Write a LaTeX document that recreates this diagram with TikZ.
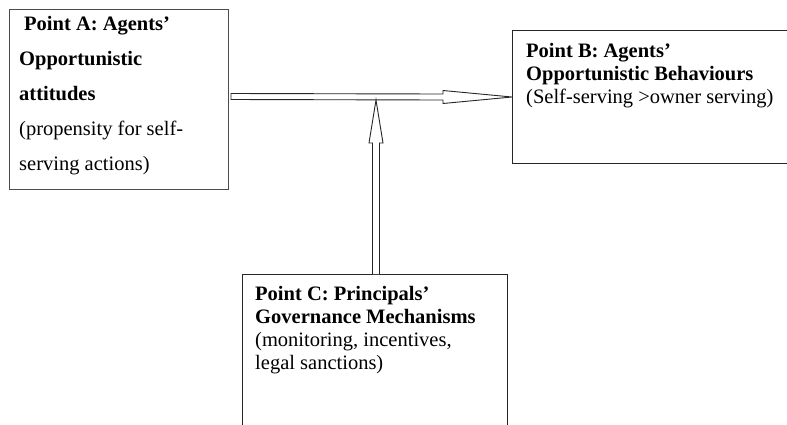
\documentclass[tikz,border=0pt]{standalone}
\usepackage{fontspec}
\setmainfont{Liberation Serif}
\usetikzlibrary{calc}
\begin{document}
\begin{tikzpicture}[x=1pt,y=-1pt,
  box/.style={draw=black!85, line width=1pt, inner sep=0pt, anchor=north west},
  txt/.style={anchor=north west, align=left, inner sep=0pt},
  arrowshape/.style={draw=black!85, line width=0.9pt, fill=white, line join=miter}]
\useasboundingbox (0,0) rectangle (787,424);
\clip (0,0) rectangle (787,424);
% boxes
\node[box, draw=black!70, line width=0.8pt, minimum width=219pt, minimum height=180pt] (A) at (9,9) {};
\node[box, minimum width=290pt, minimum height=133pt] (B) at (512,30) {};
\node[box, minimum width=265pt, minimum height=180pt] (C) at (242,274) {};
% texts
\node[txt, font=\fontsize{20.5}{35}\selectfont] (At) at (19,16)
  {\textbf{\hspace{5pt}Point A: Agents’}\\ \textbf{Opportunistic}\\ \textbf{attitudes}\\ (propensity for self-\\ serving actions)};
\node[txt, font=\fontsize{20.5}{23}\selectfont] (Bt) at (526,43)
  {\textbf{Point B: Agents’}\\ \textbf{Opportunistic Behaviours}\\ (Self-serving >owner serving)};
\node[txt, font=\fontsize{20.5}{23}\selectfont] (Ct) at (255,286)
  {\textbf{Point C: Principals’}\\ \textbf{Governance Mechanisms}\\ (monitoring, incentives,\\ legal sanctions)};
% horizontal arrow A -> B
\coordinate (ht) at (B.west);
\coordinate (hs) at (231,96.5);
\draw[arrowshape] ($(hs)+(0,-3)$) -- ($(ht)+(-69,-3)$) -- ($(ht)+(-69,-6.5)$) -- (ht)
  -- ($(ht)+(-69,6.5)$) -- ($(ht)+(-69,3)$) -- ($(hs)+(0,3)$) -- cycle;
% vertical arrow C -> horizontal arrow
\coordinate (vb) at ($(C.north)+(1,0)$);
\coordinate (vt) at (vb |- 0,100);
\draw[arrowshape] ($(vb)+(-3.5,0)$) -- ($(vt)+(-3.5,43)$) -- ($(vt)+(-7,43)$) -- (vt)
  -- ($(vt)+(7,43)$) -- ($(vt)+(3.5,43)$) -- ($(vb)+(3.5,0)$);
\end{tikzpicture}
\end{document}
